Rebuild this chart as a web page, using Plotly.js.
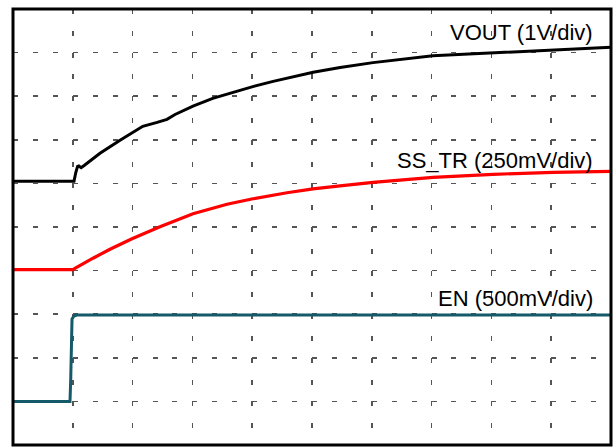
<!DOCTYPE html>
<html>
<head>
<meta charset="utf-8">
<script src="https://cdn.plot.ly/plotly-3.0.1.min.js"></script>
<style>html,body{margin:0;padding:0;background:#fff;}#chart{width:616px;height:447px;}</style>
</head>
<body>
<div id="chart"></div>
<script>
// Time axis in scope divisions (0..10), amplitude in divisions (0..10)
var voutX = [0, 1.02, 1.05, 1.08, 1.10, 1.14, 1.19, 1.455, 1.79, 2.17, 2.41, 2.575, 2.71, 3.01, 3.34, 3.68, 4.01, 4.35, 4.68, 5.02, 5.47, 6.02, 7.02, 8.03, 9.03, 10];
var voutY = [6.05, 6.05, 6.25, 6.39, 6.40, 6.36, 6.41, 6.69, 6.99, 7.31, 7.40, 7.47, 7.58, 7.77, 7.95, 8.09, 8.22, 8.34, 8.45, 8.55, 8.66, 8.77, 8.93, 9.00, 9.07, 9.12];

var sstrX = [0, 1.003, 1.05, 1.171, 1.338, 1.622, 1.990, 2.458, 3.010, 3.579, 4.013, 4.582, 5.017, 5.468, 6.020, 7.023, 8.027, 9.030, 10];
var sstrY = [4.021, 4.021, 4.06, 4.158, 4.284, 4.490, 4.731, 5.006, 5.304, 5.521, 5.647, 5.785, 5.876, 5.945, 6.025, 6.140, 6.208, 6.254, 6.277];

var enX = [0, 0.953, 0.965, 0.973, 0.987, 1.02, 1.07, 10];
var enY = [1.0, 1.0, 1.49, 2.63, 2.89, 2.96, 2.98, 2.98];

var labels = ["VOUT (1V/div)", "SS_TR (250mV/div)", "EN (500mV/div)"];
var labelY = [9.46, 6.53, 3.37];

var traces = [
  {x: voutX, y: voutY, mode: "lines", line: {color: "#000000", width: 3}, hoverinfo: "skip"},
  {x: sstrX, y: sstrY, mode: "lines", line: {color: "#ff0000", width: 3.2}, hoverinfo: "skip"},
  {x: enX, y: enY, mode: "lines", line: {color: "#145a68", width: 3}, hoverinfo: "skip"}
];

var annotations = labels.map(function (t, i) {
  return {text: t, x: 9.73, y: labelY[i], xref: "x", yref: "y", xanchor: "right", yanchor: "middle",
          showarrow: false, font: {family: "Liberation Sans, Arial, sans-serif", size: 22, color: "#000"}};
});

var layout = {
  width: 616, height: 447,
  margin: {l: 13, r: 5, t: 9, b: 2, pad: 0},
  paper_bgcolor: "#fff", plot_bgcolor: "#fff",
  showlegend: false,
  xaxis: {range: [0, 10], dtick: 1, tick0: 0, showgrid: true, gridcolor: "#555", gridwidth: 1.5,
          griddash: "5px,16.8px", zeroline: false, showline: false, ticks: "", showticklabels: false, fixedrange: true},
  yaxis: {range: [0, 10], dtick: 1, tick0: 0, showgrid: true, gridcolor: "#555", gridwidth: 1.5,
          griddash: "5px,14.93px", zeroline: false, showline: false, ticks: "", showticklabels: false, fixedrange: true},
  shapes: [{type: "rect", xref: "paper", yref: "paper", x0: 0, x1: 1, y0: 0, y1: 1,
            line: {color: "#000", width: 3}, layer: "above"}],
  annotations: annotations
};

Plotly.newPlot("chart", traces, layout, {staticPlot: true, displayModeBar: false});
</script>
</body>
</html>
